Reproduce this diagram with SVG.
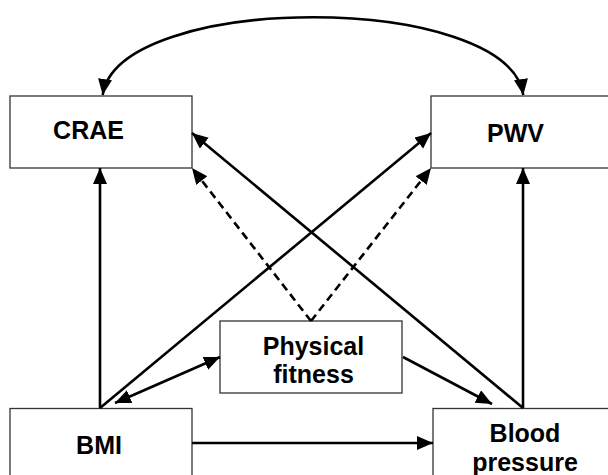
<svg xmlns="http://www.w3.org/2000/svg" width="608" height="475" viewBox="0 0 608 475">
  <defs>
    <marker id="arrow" markerUnits="userSpaceOnUse" markerWidth="17" markerHeight="15" refX="16" refY="7" orient="auto-start-reverse" viewBox="0 0 17 15">
      <path d="M0,0 L16,7 L0,14 z" fill="#000"/>
    </marker>
  </defs>
  <style>
    .box { fill: #fff; stroke: #333; stroke-width: 1.3; }
    .lbl { font-family: "Liberation Sans", Arial, sans-serif; font-weight: bold; font-size: 25px; fill: #000; text-anchor: middle; }
    .edge { fill: none; stroke: #000; stroke-width: 2.6; }
    .dash { stroke-dasharray: 8 5; }
  </style>
  <rect width="608" height="475" fill="#fff"/>
  <g id="node-crae">
    <rect class="box" x="10" y="96" width="182" height="72"/>
    <text class="lbl" x="88.5" y="138.5">CRAE</text>
  </g>
  <g id="node-pwv">
    <rect class="box" x="431" y="96" width="182" height="72"/>
    <text class="lbl" x="515.5" y="142">PWV</text>
  </g>
  <g id="node-fitness">
    <rect class="box" x="220" y="321" width="182" height="72"/>
    <text class="lbl" x="313.5" y="354.5">Physical</text>
    <text class="lbl" x="313.5" y="383">fitness</text>
  </g>
  <g id="node-bmi">
    <rect class="box" x="10" y="408.5" width="182" height="72"/>
    <text class="lbl" x="99" y="453.5">BMI</text>
  </g>
  <g id="node-bp">
    <rect class="box" x="433" y="408.5" width="182" height="72"/>
    <text class="lbl" x="525" y="441.7">Blood</text>
    <text class="lbl" x="525" y="470.8">pressure</text>
  </g>
  <g id="connectors">
    <path class="edge" d="M102.7,95 C118,-8.6 508,-8.6 523.3,95" marker-start="url(#arrow)" marker-end="url(#arrow)"/>
    <path class="edge" d="M100,408 L100,168" marker-end="url(#arrow)"/>
    <path class="edge" d="M523,408 L523,168" marker-end="url(#arrow)"/>
    <path class="edge" d="M192,443 L433,443" marker-end="url(#arrow)"/>
    <path class="edge" d="M100,408 L431,133" marker-end="url(#arrow)"/>
    <path class="edge" d="M523,408 L192,133" marker-end="url(#arrow)"/>
    <path class="edge dash" d="M311,321 L192,168" marker-end="url(#arrow)"/>
    <path class="edge dash" d="M311,321 L431,168" marker-end="url(#arrow)"/>
    <path class="edge" d="M115,403 L220,357" marker-start="url(#arrow)" marker-end="url(#arrow)"/>
    <path class="edge" d="M403,357 L492,404" marker-end="url(#arrow)"/>
  </g>
</svg>
